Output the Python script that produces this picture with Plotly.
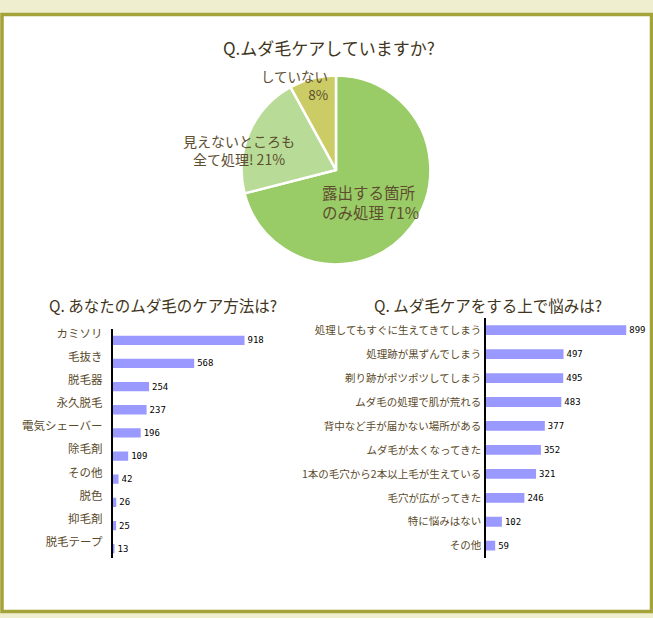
import plotly.graph_objects as go

W, H = 653, 618

# ---- data ----
pie_title = "Q.ムダ毛ケアしていますか?"
pie_line1 = ["露出する箇所", "見えないところも", "していない"]
pie_line2 = ["のみ処理", "全て処理!", ""]
pie_values = [71, 21, 8]
pie_colors = ["#99cc66", "#b8dc98", "#cccc66"]

left_title = "Q. あなたのムダ毛のケア方法は?"
left_cats = ["カミソリ", "毛抜き", "脱毛器", "永久脱毛", "電気シェーバー", "除毛剤",
             "その他", "脱色", "抑毛剤", "脱毛テープ"]
left_vals = [918, 568, 254, 237, 196, 109, 42, 26, 25, 13]

right_title = "Q. ムダ毛ケアをする上で悩みは?"
right_cats = ["処理してもすぐに生えてきてしまう", "処理跡が黒ずんでしまう", "剃り跡がポツポツしてしまう",
              "ムダ毛の処理で肌が荒れる", "背中など手が届かない場所がある", "ムダ毛が太くなってきた",
              "1本の毛穴から2本以上毛が生えている", "毛穴が広がってきた", "特に悩みはない", "その他"]
right_vals = [899, 497, 495, 483, 377, 352, 321, 246, 102, 59]

# ---- helpers ----
def px(x):
    return x / W

def py(y):
    return 1 - y / H

FONT = "Noto Sans CJK JP"
TITLE_C = "#3f3520"
LABEL_C = "#5e4e30"
TICK_C = "#5a4a2a"
BAR_C = "#9999ff"

fig = go.Figure()

# pie
cx, cy, r = 336, 167, 95
fig.add_trace(go.Pie(
    values=pie_values,
    labels=[a + b for a, b in zip(pie_line1, pie_line2)],
    marker=dict(colors=pie_colors, line=dict(color="white", width=2.5)),
    sort=False, direction="clockwise", rotation=0,
    textinfo="none", hoverinfo="skip", showlegend=False,
    domain=dict(x=[px(cx - r), px(cx + r)], y=[py(cy + r), py(cy - r)]),
))

# left bars
fig.add_trace(go.Bar(
    x=left_vals, y=left_cats, orientation="h",
    marker=dict(color=BAR_C, line=dict(width=0)),
    width=0.4, offset=0.09,
    text=[str(v) for v in left_vals], textposition="outside",
    textfont=dict(family="DejaVu Sans Mono", size=9, color="black"),
    constraintext="none", cliponaxis=False,
    xaxis="x", yaxis="y", showlegend=False, hoverinfo="skip",
))

# right bars
fig.add_trace(go.Bar(
    x=right_vals, y=right_cats, orientation="h",
    marker=dict(color=BAR_C, line=dict(width=0)),
    width=0.41,
    text=[str(v) for v in right_vals], textposition="outside",
    textfont=dict(family="DejaVu Sans Mono", size=9, color="black"),
    constraintext="none", cliponaxis=False,
    xaxis="x2", yaxis="y2", showlegend=False, hoverinfo="skip",
))

annotations = [
    dict(text=pie_title, x=px(329), y=py(43.5), font=dict(size=17, color=TITLE_C)),
    dict(text=left_title, x=px(162.5), y=py(302.7), font=dict(size=15.5, color=TITLE_C)),
    dict(text=right_title, x=px(488), y=py(302.7), font=dict(size=15.5, color=TITLE_C)),
]

# pie labels (two lines each)
pie_label_pos = [
    # (x, y_center, anchor/align, size)
    (320, 199, "left", 15.5),
    (239, 147, "center", 14),
    (330, 82, "right", 13.5),
]
for l1, l2, v, (x, yc, anc, sz) in zip(pie_line1, pie_line2, pie_values, pie_label_pos):
    second = (l2 + " " + f"{v}%").strip()
    annotations.append(dict(text=l1 + "<br>" + second, x=px(x), y=py(yc), xanchor=anc,
                            align=anc, font=dict(size=sz, color=LABEL_C)))

for a in annotations:
    a.setdefault("xanchor", "center")
    a.update(xref="paper", yref="paper", yanchor="middle", showarrow=False)
    a["font"].setdefault("family", FONT)

fig.update_layout(
    width=W, height=H, autosize=False,
    margin=dict(l=0, r=0, t=0, b=0, pad=0),
    paper_bgcolor="#efefd0", plot_bgcolor="rgba(0,0,0,0)",
    font=dict(family=FONT),
    annotations=annotations,
    shapes=[dict(type="rect", xref="paper", yref="paper", layer="below",
                 x0=px(2), x1=px(651.5), y0=py(611.5), y1=py(10.5),
                 fillcolor="white", line=dict(color="#a3a33a", width=3.5))],
    xaxis=dict(domain=[px(112.5), px(112.5 + 143.8)], range=[0, 1000],
               showgrid=False, zeroline=False, showticklabels=False, showline=False,
               fixedrange=True),
    yaxis=dict(domain=[py(558), py(326.7)], type="category", range=[9.71, -0.215],
               autorange=False, showgrid=False, zeroline=False, showline=True,
               linecolor="black", linewidth=1.5, ticks="", ticklabelstandoff=6,
               tickfont=dict(family=FONT, size=11.5, color=TICK_C), anchor="x",
               fixedrange=True),
    xaxis2=dict(domain=[px(486), px(486 + 156)], range=[0, 1000], anchor="y2",
                showgrid=False, zeroline=False, showticklabels=False, showline=False,
                fixedrange=True),
    yaxis2=dict(domain=[py(557.3), py(316)], type="category", range=[9.5, -0.51],
                autorange=False, showgrid=False, zeroline=False, showline=True,
                linecolor="black", linewidth=1.5, ticks="", ticklabelstandoff=1,
                tickfont=dict(family=FONT, size=10.5, color=TICK_C), anchor="x2",
                fixedrange=True),
)

fig.write_html("out.html", config={"displayModeBar": False},
               post_script="document.body.style.margin='0';document.body.style.padding='0';")
